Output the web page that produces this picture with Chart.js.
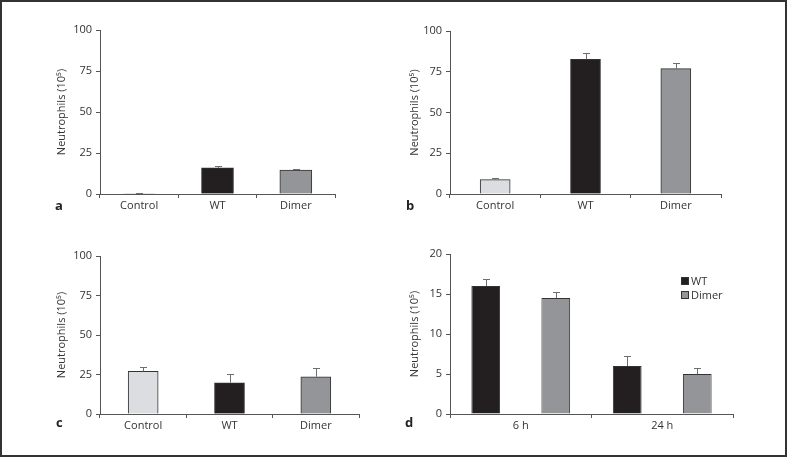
<!DOCTYPE html>
<html>
<head>
<meta charset="utf-8">
<script src="https://cdn.jsdelivr.net/npm/chart.js@4/dist/chart.umd.min.js"></script>
<style>
  body { margin: 0; background: #fff; }
  #frame { position: absolute; left: 0; top: 0; width: 787px; height: 457px; box-sizing: border-box; border: 2px solid #333; }
  canvas { position: absolute; }
  .tag { position: absolute; font: bold 13px "Open Sans", sans-serif; color: #222; }
  .legend { position: absolute; left: 681px; top: 274px; font: 11px "Open Sans", sans-serif; color: #333; line-height: 14px; }
  .legend span { display: inline-block; width: 6px; height: 6px; border: 1px solid #333; margin-right: 2px; vertical-align: 0px; }
</style>
</head>
<body>
<div id="frame"></div>
<canvas id="chartA"></canvas>
<canvas id="chartB"></canvas>
<canvas id="chartC"></canvas>
<canvas id="chartD"></canvas>
<div class="tag" style="left:55px;top:196px">a</div>
<div class="tag" style="left:406px;top:196px">b</div>
<div class="tag" style="left:56px;top:413px">c</div>
<div class="tag" style="left:405px;top:413px">d</div>
<div class="legend">
  <div><span style="background:#231f20"></span>WT</div>
  <div><span style="background:#939598"></span>Dimer</div>
</div>
<script>
// values (neutrophils, x10^5), mean and upper error
const groups = ['Control', 'WT', 'Dimer'];
const panelA = [0.3, 15.9, 14.6];
const errA = [0.3, 1.0, 0.7];
const panelB = [8.8, 82.6, 76.9];
const errB = [1.0, 4.1, 3.3];
const panelC = [27.0, 19.8, 23.6];
const errC = [2.7, 5.3, 5.7];
const timePoints = ['6 h', '24 h'];
const wtD = [16.0, 6.0];
const wtErrD = [0.9, 1.2];
const dimerD = [14.5, 5.0];
const dimerErrD = [0.8, 0.7];

const groupColors = ['#dcdde0', '#231f20', '#939598'];
const yTitle = 'Neutrophils (10\u2075)';

Chart.defaults.font.family = '"Open Sans", sans-serif';
Chart.defaults.font.size = 11;
Chart.defaults.color = '#333';

// upward error bars with a small cap
const errorBars = {
    id: 'errorBars',
    afterDatasetsDraw(chart) {
        const ctx = chart.ctx;
        const y = chart.scales.y;
        chart.data.datasets.forEach((ds, i) => {
            const meta = chart.getDatasetMeta(i);
            meta.data.forEach((bar, j) => {
                const top = y.getPixelForValue(ds.data[j] + ds.errors[j]);
                ctx.save();
                ctx.strokeStyle = '#6d6e71';
                ctx.lineWidth = 1;
                ctx.beginPath();
                ctx.moveTo(Math.round(bar.x) + 0.5, bar.y);
                ctx.lineTo(Math.round(bar.x) + 0.5, Math.round(top) + 0.5);
                ctx.moveTo(Math.round(bar.x) - 3, Math.round(top) + 0.5);
                ctx.lineTo(Math.round(bar.x) + 4, Math.round(top) + 0.5);
                ctx.stroke();
                ctx.restore();
            });
        });
    }
};

function makePanel(p) {
    const canvas = document.getElementById(p.id);
    const padLeft = p.titleX - 10.6 - p.left;
    const yWidth = p.axisX - p.left - padLeft;
    canvas.width = p.right + 6 - p.left;
    canvas.height = p.bottom - p.top + 30;
    canvas.style.left = p.left + 'px';
    canvas.style.top = p.top + 'px';

    new Chart(canvas, {
        type: 'bar',
        data: { labels: p.labels, datasets: p.datasets },
        options: {
            responsive: false,
            animation: false,
            layout: { padding: { left: padLeft, top: p.chartTop - p.top, right: 6, bottom: 0 } },
            plugins: { legend: { display: false }, tooltip: { enabled: false } },
            scales: {
                x: {
                    grid: { drawOnChartArea: false, tickLength: 4, color: '#555' },
                    border: { color: '#555' },
                    ticks: { padding: 1 },
                    afterFit: s => { s.height = 30; }
                },
                y: {
                    min: 0,
                    max: p.max,
                    ticks: { stepSize: p.step, padding: 4 },
                    grid: { drawOnChartArea: false, tickLength: 4, color: '#555' },
                    border: { color: '#555' },
                    title: { display: true, text: yTitle, font: { size: 11 } },
                    afterFit: s => { s.width = yWidth; }
                }
            }
        },
        plugins: [errorBars]
    });
}

makePanel({
    id: 'chartA', left: 40, top: 0, axisX: 100, titleX: 62, chartTop: 30, bottom: 194, right: 335,
    max: 100, step: 25, labels: groups,
    datasets: [{ data: panelA, errors: errA, backgroundColor: groupColors, borderColor: '#333', borderWidth: 1, barThickness: 32 }]
});
makePanel({
    id: 'chartB', left: 390, top: 0, axisX: 450, titleX: 415, chartTop: 31, bottom: 194, right: 721,
    max: 100, step: 25, labels: groups,
    datasets: [{ data: panelB, errors: errB, backgroundColor: groupColors, borderColor: '#333', borderWidth: 1, barThickness: 30 }]
});
makePanel({
    id: 'chartC', left: 40, top: 230, axisX: 100, titleX: 62, chartTop: 256, bottom: 414, right: 359,
    max: 100, step: 25, labels: groups,
    datasets: [{ data: panelC, errors: errC, backgroundColor: groupColors, borderColor: '#333', borderWidth: 1, barThickness: 30 }]
});
makePanel({
    id: 'chartD', left: 390, top: 230, axisX: 450, titleX: 415, chartTop: 254, bottom: 414, right: 733,
    max: 20, step: 5, labels: timePoints,
    datasets: [
        { label: 'WT', data: wtD, errors: wtErrD, backgroundColor: '#231f20', borderColor: '#333', borderWidth: 1, barPercentage: 0.41, categoryPercentage: 0.99 },
        { label: 'Dimer', data: dimerD, errors: dimerErrD, backgroundColor: '#939598', borderColor: '#333', borderWidth: 1, barPercentage: 0.41, categoryPercentage: 0.99 }
    ]
});
</script>
</body>
</html>
